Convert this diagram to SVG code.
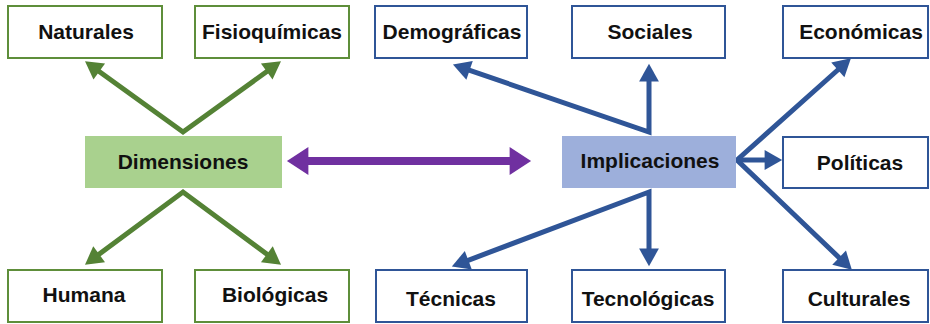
<svg xmlns="http://www.w3.org/2000/svg" width="930" height="324" viewBox="0 0 930 324">
<defs>
<style>
.gbox{fill:#ffffff;stroke:#5e8e3a;stroke-width:2}
.bbox{fill:#ffffff;stroke:#2f5597;stroke-width:2}
.t{font-family:"Liberation Sans",Arial,sans-serif;font-weight:bold;font-size:21px;fill:#111111;text-anchor:middle}
.gl{fill:none;stroke:#548235;stroke-width:5;stroke-linejoin:miter}
.bl{fill:none;stroke:#2f5597;stroke-width:5;stroke-linejoin:miter}
.pl{fill:none;stroke:#7030a0;stroke-width:8}
</style>
<marker id="ag" markerUnits="userSpaceOnUse" markerWidth="20" markerHeight="22" viewBox="0 -10 17 20" refX="4" refY="0" orient="auto-start-reverse"><path d="M0,-9 L16,0 L0,9 z" fill="#548235"/></marker>
<marker id="ab" markerUnits="userSpaceOnUse" markerWidth="20" markerHeight="22" viewBox="0 -10 17 20" refX="4" refY="0" orient="auto-start-reverse"><path d="M0,-9 L16,0 L0,9 z" fill="#2f5597"/></marker>
<marker id="ap" markerUnits="userSpaceOnUse" markerWidth="24" markerHeight="30" viewBox="0 -14 21 28" refX="5" refY="0" orient="auto-start-reverse"><path d="M0,-13 L20,0 L0,13 z" fill="#7030a0"/></marker>
</defs>
<g id="connectors">
<polyline class="gl" points="95.7,69 183,132 270.3,69" marker-start="url(#ag)" marker-end="url(#ag)"/>
<polyline class="gl" points="95.6,256.8 183,192 270.4,256.8" marker-start="url(#ag)" marker-end="url(#ag)"/>
<line class="pl" x1="303" y1="161" x2="515" y2="161" marker-start="url(#ap)" marker-end="url(#ap)"/>
<polyline class="bl" points="465.4,68.9 649,132 649,77" marker-start="url(#ab)" marker-end="url(#ab)"/>
<polyline class="bl" points="841.1,67 737,160 842.3,260.7" marker-start="url(#ab)" marker-end="url(#ab)"/>
<line class="bl" x1="737" y1="160" x2="769" y2="160" marker-end="url(#ab)"/>
<polyline class="bl" points="464.2,261.8 649,192 649,253" marker-start="url(#ab)" marker-end="url(#ab)"/>
</g>
<g id="naturales"><rect class="gbox" x="8" y="6" width="154" height="52"/><text class="t" x="86" y="39">Naturales</text></g>
<g id="fisioquimicas"><rect class="gbox" x="195" y="6" width="154" height="52"/><text class="t" x="272" y="39">Fisioquímicas</text></g>
<g id="dimensiones"><rect x="85" y="136" width="197" height="52" fill="#a9d18e"/><text class="t" x="183" y="169">Dimensiones</text></g>
<g id="humana"><rect class="gbox" x="8" y="270" width="154" height="52"/><text class="t" x="84" y="302">Humana</text></g>
<g id="biologicas"><rect class="gbox" x="195" y="270" width="154" height="52"/><text class="t" x="275" y="302">Biológicas</text></g>
<g id="demograficas"><rect class="bbox" x="375" y="6" width="152" height="52"/><text class="t" x="452" y="39">Demográficas</text></g>
<g id="sociales"><rect class="bbox" x="572" y="6" width="153" height="52"/><text class="t" x="650" y="39">Sociales</text></g>
<g id="economicas"><rect class="bbox" x="783" y="6" width="145" height="52"/><text class="t" x="861" y="39">Económicas</text></g>
<g id="implicaciones"><rect x="562" y="136" width="174" height="52" fill="#9dafdb"/><text class="t" x="650" y="168">Implicaciones</text></g>
<g id="politicas"><rect class="bbox" x="783" y="137" width="145" height="51" fill="#fff"/><text class="t" x="860" y="170">Políticas</text></g>
<g id="tecnicas"><rect class="bbox" x="376" y="270" width="151" height="52"/><text class="t" x="451" y="306">Técnicas</text></g>
<g id="tecnologicas"><rect class="bbox" x="572" y="270" width="153" height="52"/><text class="t" x="648" y="306">Tecnológicas</text></g>
<g id="culturales"><rect class="bbox" x="783" y="270" width="145" height="52"/><text class="t" x="859" y="306">Culturales</text></g>
</svg>
